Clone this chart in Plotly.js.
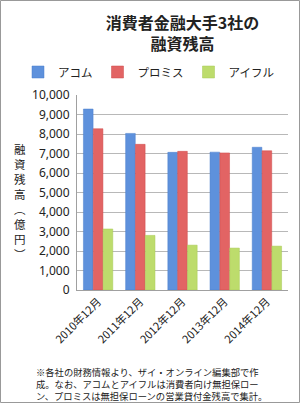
<!DOCTYPE html>
<html><head><meta charset="utf-8">
<script src="https://cdn.plot.ly/plotly-3.0.1.min.js"></script>
<style>html,body{margin:0;padding:0;background:#fff}#c{width:300px;height:403px}</style>
</head><body><div id="c"></div>
<script>
const categories = ["2010年12月","2011年12月","2012年12月","2013年12月","2014年12月"];
const seriesNames = ["アコム","プロミス","アイフル"];
const acom = [9280, 8030, 7060, 7070, 7320];
const promise = [8270, 7470, 7110, 7030, 7140];
const aiful = [3130, 2800, 2300, 2150, 2250];
const yTicks = [0,1000,2000,3000,4000,5000,6000,7000,8000,9000,10000];
const yTickText = ["0","1,000","2,000","3,000","4,000","5,000","6,000","7,000","8,000","9,000","10,000"];

const font = "'Noto Sans CJK JP', 'Noto Sans', sans-serif";
const colors = ["#5e91dc", "#e26464", "#bddc6c"];
const lines = ["#4a7fcc", "#cf4b4b", "#a6c955"];
const vals = [acom, promise, aiful];
const traces = vals.map((v,i)=>({
  type:'bar', x:categories, y:v, name:seriesNames[i],
  marker:{color:colors[i], line:{color:lines[i], width:0.5}}
}));
const W=300,H=403, m={l:77,r:12,t:95,b:113};
const pw=W-m.l-m.r, ph=H-m.t-m.b;
const layout = {
  width:W, height:H, margin:m,
  paper_bgcolor:'#fff', plot_bgcolor:'#fff',
  font:{family:font, color:'#222', size:12},
  title:{text:'<b>消費者金融大手3社の<br>融資残高</b>', x:0.5, xref:'paper', yref:'container', y:1-29/H, yanchor:'middle', font:{size:16, family:font, color:'#222'}},
  showlegend:true,
  legend:{orientation:'h', x:-(m.l-18)/pw, xref:'paper', xanchor:'left', y:1+(m.t-72)/ph, yref:'paper', yanchor:'middle', font:{size:11.5, family:font}, traceorder:'normal', itemwidth:30},
  barmode:'group', bargap:0.3, bargroupgap:0.02,
  xaxis:{type:'category', tickangle:-45, tickfont:{size:11, family:font}, showline:true, linecolor:'#a0a0a0', ticks:'', showgrid:false, automargin:false},
  yaxis:{range:[0,10000], tickvals:yTicks, ticktext:yTickText, tickfont:{size:12, family:"'Noto Sans', sans-serif"}, showgrid:true, gridcolor:'#b8b8b8', gridwidth:1, showline:true, linecolor:'#a0a0a0', ticks:'', zeroline:false, automargin:false, ticklabelstandoff:4},
  annotations:[
    {text:'融<br>資<br>残<br>高<br>︵<br>億<br>円<br>︶', xref:'paper', yref:'paper', x:-57/pw, y:1-(201-m.t)/ph, xanchor:'center', yanchor:'middle', showarrow:false, font:{size:11.5, family:font, color:'#222'}},
    {text:'※各社の財務情報より、ザイ・オンライン編集部で作<br>成。なお、アコムとアイフルは消費者向け無担保ロー<br>ン、プロミスは無担保ローンの営業貸付金残高で集計。', xref:'paper', yref:'paper', x:-(m.l-34)/pw, y:-(363-m.t-ph)/ph, xanchor:'left', yanchor:'top', align:'left', showarrow:false, font:{size:9.3, family:font, color:'#222'}}
  ],
  shapes:[{type:'rect', xref:'paper', yref:'paper', x0:-(m.l-0.5)/pw, x1:1+(m.r-0.5)/pw, y0:-(m.b-0.5)/ph, y1:1+(m.t-0.5)/ph, line:{color:'#999', width:1}}]
};
Plotly.newPlot('c', traces, layout, {displayModeBar:false, staticPlot:true});
</script></body></html>
